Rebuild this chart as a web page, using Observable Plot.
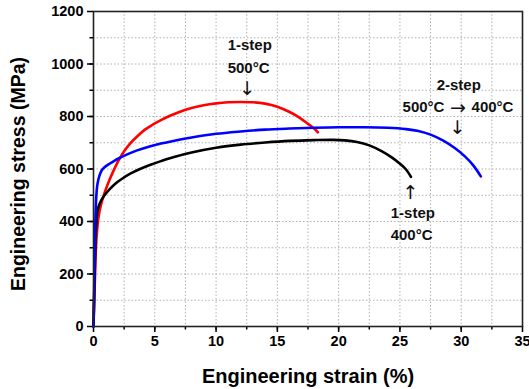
<!DOCTYPE html>
<html><head><meta charset="utf-8">
<script src="https://cdn.jsdelivr.net/npm/d3@7"></script>
<script src="https://cdn.jsdelivr.net/npm/@observablehq/plot@0.6"></script>
<style>body{margin:0;background:#fff}</style>
</head><body><div id="chart"></div>
<script>
// 1-step 500°C (red)
const redStrain = [0, 0.06, 0.13, 0.2, 0.3, 0.42, 0.6, 0.8, 1.0, 1.3, 1.6, 2.05, 2.5, 3.0, 3.6, 4.2, 4.8, 5.5, 6.2, 7.0, 8.0, 9.0, 10.0, 11.0, 12.0, 13.0, 14.0, 15.0, 16.0, 16.8, 17.5, 18.0, 18.3];
const redStress = [0, 100, 200, 300, 370, 420, 462, 494, 522, 558, 590, 633, 668, 698, 726, 750, 768, 786, 802, 817, 832, 843, 850, 854, 855, 854, 849, 837, 817, 796, 772, 754, 740];
// 1-step 400°C (black)
const blackStrain = [0, 0.06, 0.12, 0.2, 0.3, 0.4, 0.6, 0.9, 1.3, 1.8, 2.3, 3.0, 3.7, 4.6, 5.5, 6.5, 8.0, 10.0, 12.0, 14.0, 16.0, 18.0, 19.5, 20.5, 21.5, 22.5, 23.5, 24.3, 25.0, 25.5, 25.9];
const blackStress = [0, 120, 250, 370, 430, 455, 478, 500, 522, 545, 562, 582, 598, 615, 630, 645, 663, 681, 693, 701, 707, 710, 711, 709, 703, 690, 668, 645, 620, 598, 570];
// 2-step 500°C → 400°C (blue)
const blueStrain = [0, 0.05, 0.1, 0.15, 0.22, 0.3, 0.4, 0.55, 0.7, 0.9, 1.2, 1.6, 2.0, 2.7, 3.5, 4.5, 5.5, 6.5, 8.0, 10.0, 12.0, 14.0, 16.0, 18.0, 20.0, 22.0, 24.0, 25.5, 26.5, 27.5, 28.5, 29.5, 30.3, 31.0, 31.6];
const blueStress = [0, 130, 270, 400, 490, 535, 560, 583, 597, 607, 617, 628, 639, 655, 670, 685, 697, 707, 720, 734, 743, 750, 754, 757, 759, 759, 757, 752, 745, 731, 709, 679, 648, 613, 572];

const xMajorTicks = [0, 5, 10, 15, 20, 25, 30, 35];
const xMinorTicks = [2.5, 5, 7.5, 10, 12.5, 15, 17.5, 20, 22.5, 25, 27.5, 30, 32.5];
const yMajorTicks = [0, 200, 400, 600, 800, 1000, 1200];
const yMinorTicks = [100, 200, 300, 400, 500, 600, 700, 800, 900, 1000, 1100];

const xTitle = "Engineering strain (%)";
const yTitle = "Engineering stress (MPa)";

// annotation labels anchored in data space (strain, stress)
const labelText = ["1-step", "500°C", "2-step", "500°C", "400°C", "1-step", "400°C"];
const labelStrain = [12.75, 12.65, 29.8, 26.92, 32.55, 26.05, 25.95];
const labelStress = [1070, 985, 918, 834, 834, 430, 347];
const arrowText = ["↓", "→", "↓", "↑"];
const arrowStrain = [12.55, 29.74, 29.7, 25.85];
const arrowStress = [905, 834, 757, 508];

const toRows = (xs, ys) => xs.map((x, i) => ({strain: x, stress: ys[i]}));
const red = toRows(redStrain, redStress);
const black = toRows(blackStrain, blackStress);
const blue = toRows(blueStrain, blueStress);
const labels = labelText.map((t, i) => ({text: t, strain: labelStrain[i], stress: labelStress[i]}));
const arrows = arrowText.map((t, i) => ({text: t, strain: arrowStrain[i], stress: arrowStress[i]}));

const lineOpts = {x: "strain", y: "stress", strokeWidth: 2.6, curve: "catmull-rom"};
const fmt = d3.format("d");

const plot = Plot.plot({
  width: 529, height: 389,
  marginLeft: 93, marginRight: 7, marginTop: 11, marginBottom: 63,
  style: {fontFamily: "'Liberation Sans', Arial, sans-serif", fontSize: "14px", fontWeight: "bold", background: "#fff", color: "#000"},
  x: {domain: [0, 35]},
  y: {domain: [0, 1200]},
  marks: [
    Plot.gridX(xMinorTicks, {stroke: "#b0b0b0", strokeOpacity: 1, strokeDasharray: "1.5,2"}),
    Plot.gridY(yMinorTicks, {stroke: "#b0b0b0", strokeOpacity: 1, strokeDasharray: "1.5,2"}),
    Plot.axisX(xMajorTicks, {tickSize: 6, tickPadding: 3, strokeWidth: 1.5, label: null, tickFormat: fmt, fontSize: 14.5, fontWeight: "bold"}),
    Plot.axisX(xMinorTicks, {tickSize: 3.5, strokeWidth: 1.5, tickFormat: () => "", label: null}),
    Plot.axisY(yMajorTicks, {tickSize: 6, tickPadding: 4, strokeWidth: 1.5, label: null, tickFormat: fmt, fontSize: 14.5, fontWeight: "bold"}),
    Plot.axisY(yMinorTicks, {tickSize: 3.5, strokeWidth: 1.5, tickFormat: () => "", label: null}),
    Plot.line(red, {...lineOpts, stroke: "#ff0000"}),
    Plot.line(black, {...lineOpts, stroke: "#000000"}),
    Plot.line(blue, {...lineOpts, stroke: "#0000ff"}),
    Plot.frame({stroke: "#222", strokeWidth: 1.6}),
    Plot.text(labels, {x: "strain", y: "stress", text: "text", fontSize: 15, fontWeight: "bold", fill: "#111", textAnchor: "middle", lineAnchor: "middle"}),
    Plot.text(arrows, {x: "strain", y: "stress", text: "text", fontSize: 19, fontWeight: "normal", fontFamily: "'DejaVu Sans', sans-serif", fill: "#111", textAnchor: "middle", lineAnchor: "middle"}),
    Plot.text([xTitle], {frameAnchor: "bottom", dy: 50, fontSize: 20, fontWeight: "bold", textAnchor: "middle", lineAnchor: "middle"}),
    Plot.text([yTitle], {frameAnchor: "left", dx: -75, dy: 5, rotate: -90, fontSize: 19.5, fontWeight: "bold", textAnchor: "middle", lineAnchor: "middle"})
  ]
});
document.getElementById("chart").appendChild(plot);
</script>
</body></html>
